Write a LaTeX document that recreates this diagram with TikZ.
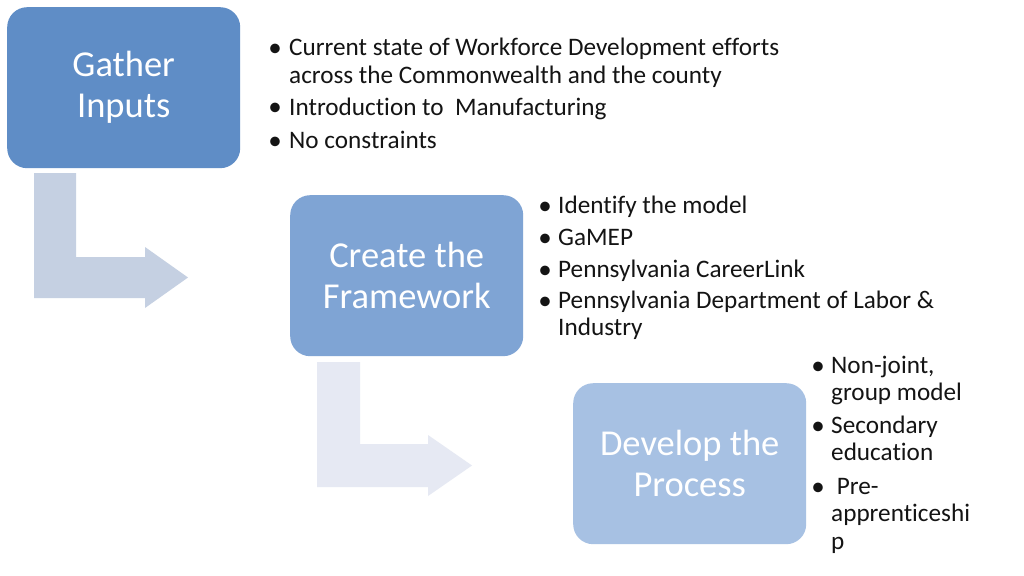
\documentclass[tikz,border=0pt]{standalone}
\usepackage{fontspec}
\setmainfont[Ligatures=NoCommon]{Carlito}
\definecolor{boxA}{RGB}{95,141,198}
\definecolor{boxB}{RGB}{127,164,212}
\definecolor{boxC}{RGB}{167,193,227}
\definecolor{arrA}{RGB}{197,208,226}
\definecolor{arrB}{RGB}{230,233,243}
\definecolor{txt}{RGB}{20,20,20}
\newcommand\mylines[1]{\begin{tabular}[t]{@{}l@{}}#1\end{tabular}}
\begin{document}
\begin{tikzpicture}[x=1pt,y=-1pt,
  stage/.style={rounded corners=20pt,minimum width=233pt,minimum height=161pt,anchor=north west,
    text=white,align=center,font=\fontsize{36.5}{41}\selectfont,inner sep=0pt},
  bul/.style={anchor=base west,text=txt,font=\fontsize{25.2}{27.5}\selectfont,inner sep=0pt},
  dot/.style={anchor=base,text=txt,font=\fontsize{27}{27.5}\selectfont,inner sep=0pt}]
\useasboundingbox (0,0) rectangle (1024,575);
\fill[white] (0,0) rectangle (1024,575);
% bent arrows
\fill[arrA] (34,173) -- (76,173) -- (76,257) -- (145,257) -- (145,247) -- (188,277.5) -- (145,308) -- (145,298) -- (34,298) -- cycle;
\fill[arrB] (317,362) -- (360,362) -- (360,444) -- (428,444) -- (428,435) -- (472,465.5) -- (428,496) -- (428,487) -- (317,487) -- cycle;
% stages
\node[stage,fill=boxA] (s1) at (7,7) {Gather\\Inputs};
\node[stage,fill=boxB] (s2) at (290,195) {Create the\\Framework};
\node[stage,fill=boxC] (s3) at (573,383) {Develop the\\Process};
% bullets 1
\node[dot] (d11) at (275,57) {•};
\node[bul] (b11) at (289,56) {\mylines{Current state of Workforce Development efforts\\across the Commonwealth and the county}};
\node[dot] (d12) at (275,116) {•};
\node[bul] (b12) at (289,115) {Introduction to\ \ Manufacturing};
\node[dot] (d13) at (275,149) {•};
\node[bul] (b13) at (289,148) {No constraints};
% bullets 2
\node[dot] (d21) at (545,214) {•};
\node[bul] (b21) at (558,213) {Identify the model};
\node[dot] (d22) at (545,246) {•};
\node[bul] (b22) at (558,245) {GaMEP};
\node[dot] (d23) at (545,278) {•};
\node[bul] (b23) at (558,277) {Pennsylvania CareerLink};
\node[dot] (d24) at (545,309) {•};
\node[bul] (b24) at (558,308) {\mylines{Pennsylvania Department of Labor \&\\Industry}};
% bullets 3
\node[dot] (d31) at (818,374) {•};
\node[bul] (b31) at (831,373) {\mylines{Non-joint,\\group model}};
\node[dot] (d32) at (818,434) {•};
\node[bul] (b32) at (831,433) {\mylines{Secondary\\education}};
\node[dot] (d33) at (818,495) {•};
\node[bul] (b33) at (831,494) {\mylines{\ Pre-\\apprenticeshi\\p}};
\end{tikzpicture}
\end{document}
